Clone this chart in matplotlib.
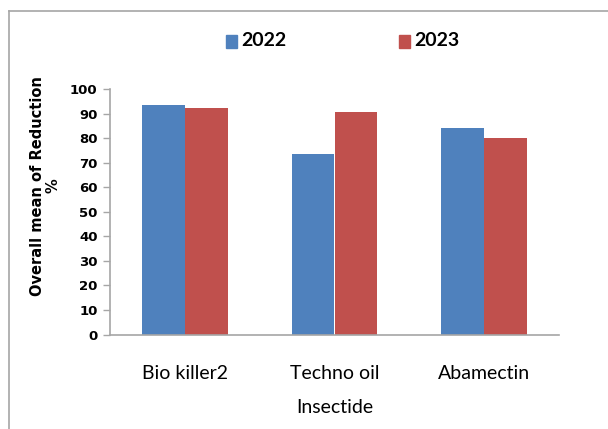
import matplotlib
matplotlib.use("Agg")
import matplotlib.pyplot as plt
import numpy as np
from matplotlib.patches import Rectangle

# values
insecticides = ['Bio killer2', 'Techno oil', 'Abamectin']
years = ['2022', '2023']
reduction_2022 = [93.7, 73.7, 84.4]
reduction_2023 = [92.5, 90.7, 80.3]
y_ticks = [0, 10, 20, 30, 40, 50, 60, 70, 80, 90, 100]

blue = '#4F81BD'
red = '#C0504D'
grey = '#A6A6A6'
narrow = ['Lato', 'DejaVu Sans']

fig = plt.figure(figsize=(6.08, 4.29), dpi=100)

# outer chart frame (only left and top edges fall inside the picture)
fig.add_artist(plt.Line2D([8.5 / 608, 8.5 / 608], [0, 1 - 11 / 429],
                          transform=fig.transFigure, color=grey, lw=1.2))
fig.add_artist(plt.Line2D([8.5 / 608, 1], [1 - 11 / 429, 1 - 11 / 429],
                          transform=fig.transFigure, color=grey, lw=1.2))

ax = fig.add_axes([110 / 608, 1 - 334.5 / 429, 449 / 608, 245.2 / 429])

x = np.arange(len(insecticides))
w = 0.287
ax.bar(x - w / 2, reduction_2022, width=w, color=blue, label=years[0])
ax.bar(x + w / 2, reduction_2023, width=w, color=red, label=years[1])

ax.set_xlim(-0.5, len(insecticides) - 0.5)
ax.set_ylim(0, 100)
ax.set_yticks(y_ticks)
ax.set_yticklabels([str(t) for t in y_ticks], fontsize=9.5, fontweight='bold',
                   family='DejaVu Sans')
ax.set_xticks(x)
ax.set_xticklabels(insecticides, fontsize=14, family=narrow)
ax.tick_params(axis='x', length=0, pad=22)
ax.tick_params(axis='y', length=5, width=1, color=grey, pad=4)

for side in ['top', 'right']:
    ax.spines[side].set_visible(False)
for side in ['left', 'bottom']:
    ax.spines[side].set_color(grey)
    ax.spines[side].set_linewidth(1.2)

ax.set_xlabel('Insectide', fontsize=14, family=narrow, labelpad=12)
ax.set_ylabel('Overall mean of Reduction\n%', fontsize=10.5, fontweight='bold',
              family='DejaVu Sans', linespacing=1.0)
ax.yaxis.set_label_coords(-0.111, 0.606)

# legend drawn as two separate entries across the top
for i, (yr, col) in enumerate(zip(years, [blue, red])):
    mx = [225.5, 398.5][i]
    fig.add_artist(Rectangle((mx / 608, 1 - 47.5 / 429), 11 / 608, 13 / 429,
                             transform=fig.transFigure, color=col))
    fig.text((mx + 16) / 608, 1 - 40 / 429, yr, fontsize=14, fontweight='bold',
             family=narrow, va='center', ha='left')

fig.savefig('out.png', dpi=100)
